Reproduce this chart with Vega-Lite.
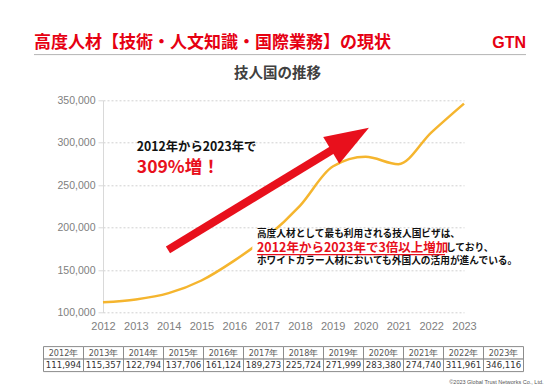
{
  "$schema": "https://vega.github.io/schema/vega-lite/v6.json",
  "padding": 0,
  "background": "white",
  "config": {"view": {"stroke": null}, "font": "Noto Sans CJK JP"},
  "bounds": "flush",
  "center": true,
  "spacing": 33.3,
  "datasets": {
    "visa": [
      {"year": 2012, "label": "2012年", "count": 111994},
      {"year": 2013, "label": "2013年", "count": 115357},
      {"year": 2014, "label": "2014年", "count": 122794},
      {"year": 2015, "label": "2015年", "count": 137706},
      {"year": 2016, "label": "2016年", "count": 161124},
      {"year": 2017, "label": "2017年", "count": 189273},
      {"year": 2018, "label": "2018年", "count": 225724},
      {"year": 2019, "label": "2019年", "count": 271999},
      {"year": 2020, "label": "2020年", "count": 283380},
      {"year": 2021, "label": "2021年", "count": 274740},
      {"year": 2022, "label": "2022年", "count": 311961},
      {"year": 2023, "label": "2023年", "count": 346116}
    ],
    "header": [
      {"item": "title", "label": "高度人材【技術・人文知識・国際業務】の現状"},
      {"item": "logo", "label": "GTN"}
    ]
  },
  "vconcat": [
    {
      "width": 567,
      "height": 66.2,
      "data": {"name": "header"},
      "encoding": {
        "x": {"field": "item", "type": "nominal",
          "scale": {"type": "point", "domain": ["title", "logo"], "padding": 0.0762, "align": 0.4533},
          "axis": null}
      },
      "layer": [
        {
          "transform": [{"filter": "datum.item === 'title'"}],
          "mark": {"type": "rule", "color": "#b4b4b4", "strokeWidth": 1, "yOffset": 21.5},
          "encoding": {"x2": {"datum": "logo"}}
        },
        {
          "transform": [{"filter": "datum.item === 'title'"}],
          "mark": {"type": "text", "align": "left", "baseline": "middle", "dy": 9.9, "fontSize": 17, "fontWeight": "bold", "color": "#E60012", "font": "Noto Sans CJK JP"},
          "encoding": {"text": {"field": "label"}}
        },
        {
          "transform": [{"filter": "datum.item === 'logo'"}],
          "mark": {"type": "text", "align": "right", "baseline": "middle", "dy": 9.9, "fontSize": 16, "fontWeight": "bold", "color": "#E60012", "font": "Liberation Sans"},
          "encoding": {"text": {"field": "label"}}
        }
      ]
    },
    {
      "width": 361,
      "height": 212.2,
      "title": {"text": "技人国の推移", "fontSize": 14.5, "fontWeight": "bold", "color": "#404040", "font": "Noto Sans CJK JP", "anchor": "middle", "frame": "group", "offset": 14, "dx": -6},
      "encoding": {
        "x": {"field": "year", "type": "quantitative",
          "scale": {"domain": [2012, 2023], "nice": false, "zero": false},
          "axis": {"values": [2012, 2013, 2014, 2015, 2016, 2017, 2018, 2019, 2020, 2021, 2022, 2023], "format": "d", "title": null, "labelColor": "#808080", "labelFontSize": 11, "labelFont": "Liberation Sans", "domain": false, "ticks": false, "grid": false, "labelPadding": 8, "labelFlush": false, "labelOverlap": false}},
        "y": {"field": "count", "type": "quantitative",
          "scale": {"domain": [100000, 350000], "nice": false, "zero": false},
          "axis": {"values": [100000, 150000, 200000, 250000, 300000, 350000], "format": ",.0f", "title": null, "labelColor": "#808080", "labelFontSize": 10.5, "labelFont": "Liberation Sans", "domain": true, "domainColor": "#d9d9d9", "ticks": true, "tickColor": "#d9d9d9", "tickSize": 5, "labelPadding": 3, "grid": true, "gridColor": "#d0d0d0", "gridDash": [2, 2], "labelOverlap": false}}
      },
      "layer": [
        {
          "data": {"name": "visa"},
          "mark": {"type": "line", "color": "#F5B52E", "strokeWidth": 2.5, "interpolate": "monotone"}
        },
        {
          "data": {"values": [{"year": 2016.55, "year2": 2023.3, "count": 152600, "count2": 197300}]},
          "mark": {"type": "rect", "fill": "white"},
          "encoding": {"x2": {"field": "year2"}, "y2": {"field": "count2"}}
        },
        {
          "data": {"values": [{"year": 2013.98, "year2": 2019.53, "count": 173800, "count2": 304450}]},
          "mark": {"type": "rule", "color": "#E8101C", "strokeWidth": 8, "strokeCap": "butt"},
          "encoding": {"x2": {"field": "year2"}, "y2": {"field": "count2"}}
        },
        {
          "data": {"values": [{"year": 2019.53, "count": 304450}]},
          "mark": {"type": "point", "shape": "M0,-1L0.71,1L-0.71,1Z", "size": 1936, "angle": 59, "filled": true, "color": "#E8101C", "opacity": 1, "strokeWidth": 0}
        },
        {
          "data": {"values": [{"year": 2013.03, "count": 294500, "note": "2012年から2023年で"}]},
          "mark": {"type": "text", "align": "left", "baseline": "middle", "fontSize": 12.3, "fontWeight": "bold", "color": "#111111", "font": "Noto Sans CJK JP"},
          "encoding": {"text": {"field": "note"}}
        },
        {
          "data": {"values": [{"year": 2013.03, "count": 270500, "note": "309%増！"}]},
          "mark": {"type": "text", "align": "left", "baseline": "middle", "fontSize": 17.5, "fontWeight": "bold", "color": "#E8101C", "font": "Noto Sans CJK JP"},
          "encoding": {"text": {"field": "note"}}
        },
        {
          "data": {"values": [
            {"year": 2016.69, "count": 192000, "note": "高度人材として最も利用される技人国ビザは、"},
            {"year": 2022.45, "count": 176150, "note": "しており、"},
            {"year": 2016.69, "count": 160300, "note": "ホワイトカラー人材においても外国人の活用が進んでいる。"}
          ]},
          "mark": {"type": "text", "align": "left", "baseline": "middle", "fontSize": 9.7, "fontWeight": "bold", "color": "#111111", "font": "Noto Sans CJK JP"},
          "encoding": {"text": {"field": "note"}}
        },
        {
          "data": {"values": [{"year": 2016.69, "count": 176150, "note": "2012年から2023年で3倍以上増加"}]},
          "mark": {"type": "text", "align": "left", "baseline": "middle", "fontSize": 12.5, "fontWeight": "bold", "color": "#E8101C", "font": "Noto Sans CJK JP"},
          "encoding": {"text": {"field": "note"}}
        },
        {
          "data": {"values": [{"year": 2016.69, "year2": 2022.42, "count": 168200}]},
          "mark": {"type": "rule", "color": "#E8101C", "strokeWidth": 1.3},
          "encoding": {"x2": {"field": "year2"}}
        }
      ]
    },
    {
      "width": 480,
      "height": 25,
      "data": {"name": "visa"},
      "title": {"text": "©2023 Global Trust Networks Co., Ltd.", "orient": "bottom", "anchor": "end", "frame": "group", "fontSize": 5.5, "fontWeight": "normal", "color": "#555555", "font": "Liberation Sans", "dx": 20, "offset": 8},
      "encoding": {
        "x": {"field": "label", "type": "nominal", "sort": null, "scale": {"paddingInner": 0, "paddingOuter": 0}, "axis": null}
      },
      "layer": [
        {
          "mark": {"type": "rect", "fill": "white", "stroke": "#8c8c8c", "strokeWidth": 1},
          "encoding": {"y": {"datum": "header", "type": "nominal", "scale": {"domain": ["header", "number"], "paddingInner": 0, "paddingOuter": 0}, "axis": null}}
        },
        {
          "mark": {"type": "rect", "fill": "white", "stroke": "#8c8c8c", "strokeWidth": 1},
          "encoding": {"y": {"datum": "number", "type": "nominal"}}
        },
        {
          "mark": {"type": "text", "fontSize": 9, "color": "#555555", "baseline": "middle", "font": "DejaVu Sans Condensed"},
          "encoding": {"y": {"datum": "header", "type": "nominal"}, "text": {"field": "label"}}
        },
        {
          "mark": {"type": "text", "fontSize": 9.5, "color": "#333333", "baseline": "middle", "font": "DejaVu Sans Condensed"},
          "encoding": {"y": {"datum": "number", "type": "nominal"}, "text": {"field": "count", "type": "quantitative", "format": ","}}
        }
      ]
    }
  ]
}
